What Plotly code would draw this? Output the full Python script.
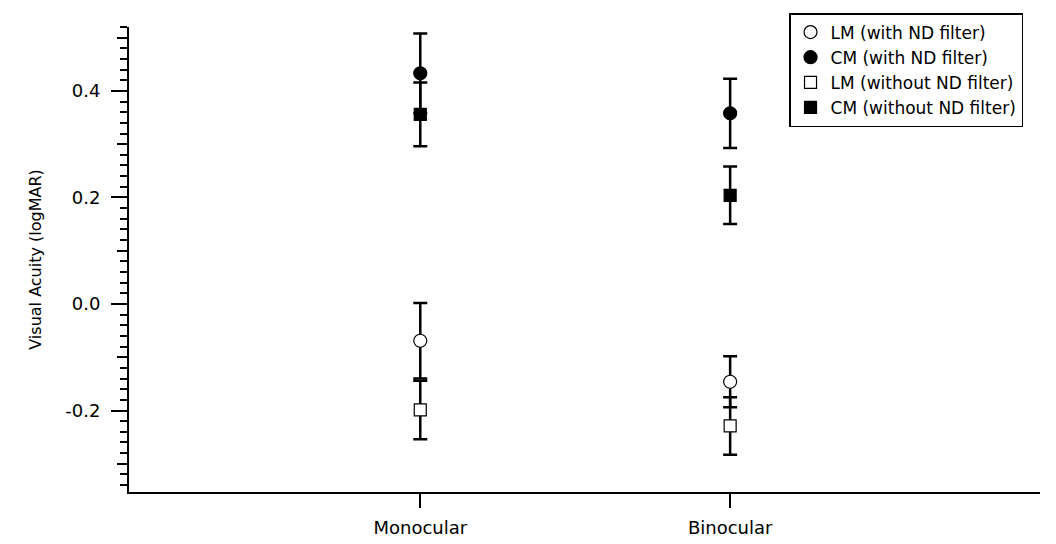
import plotly.graph_objects as go

categories = ["Monocular", "Binocular"]

lm_nd = [-0.069, -0.146]
lm_nd_err = [0.071, 0.048]
cm_nd = [0.433, 0.358]
cm_nd_err = [0.075, 0.065]
lm_no = [-0.199, -0.229]
lm_no_err = [0.055, 0.054]
cm_no = [0.356, 0.204]
cm_no_err = [0.060, 0.054]

y_ticks = [-0.2, 0.0, 0.2, 0.4]
y_tick_labels = ["-0.2", "0.0", "0.2", "0.4"]

xpos = list(range(1, len(categories) + 1))

FONT = "DejaVu Sans, Liberation Sans, Arial, sans-serif"

series = [
    ("LM (with ND filter)", lm_nd, lm_nd_err, "circle", "white", 13),
    ("CM (with ND filter)", cm_nd, cm_nd_err, "circle", "black", 13),
    ("LM (without ND filter)", lm_no, lm_no_err, "square", "white", 12),
    ("CM (without ND filter)", cm_no, cm_no_err, "square", "black", 12),
]

fig = go.Figure()
for name, ys, errs, sym, fill, size in series:
    fig.add_trace(go.Scatter(
        x=xpos, y=ys, name=name, mode="markers",
        marker=dict(symbol=sym, color=fill, size=size,
                    line=dict(color="black", width=1.2)),
        error_y=dict(type="data", array=errs, visible=True,
                     color="black", thickness=2.5, width=7),
    ))

# helper trace for the medium (0.1) tick axis
fig.add_trace(go.Scatter(x=[None], y=[None], yaxis="y2", showlegend=False,
                         hoverinfo="skip"))

yr = [-0.353, 0.52]

fig.update_layout(
    width=1056, height=544,
    margin=dict(l=121, r=24, t=19, b=60, autoexpand=False),
    plot_bgcolor="white", paper_bgcolor="white",
    font=dict(family=FONT, color="black", size=16),
    showlegend=True,
    legend=dict(
        x=0.7245, y=1.03, xanchor="left", yanchor="top",
        bordercolor="black", borderwidth=1.5, bgcolor="white",
        font=dict(size=17, family=FONT), itemwidth=30,
        tracegroupgap=0,
    ),
    xaxis=dict(
        range=[0.06, 3.0],
        tickvals=xpos, ticktext=categories,
        ticks="outside", ticklen=14, tickwidth=2, tickcolor="black",
        showline=True, linewidth=2, linecolor="black",
        showgrid=False, zeroline=False,
        tickfont=dict(size=18, family=FONT),
        ticklabelstandoff=4,
    ),
    yaxis=dict(
        range=yr,
        tickvals=y_ticks, ticktext=y_tick_labels,
        ticks="outside", ticklen=16, tickwidth=2, tickcolor="black",
        minor=dict(dtick=0.02, tick0=0, ticks="outside", ticklen=7,
                   tickwidth=1.5, tickcolor="black", showgrid=False),
        showline=True, linewidth=2, linecolor="black",
        showgrid=False, zeroline=False,
        tickfont=dict(size=18, family=FONT),
        ticklabelstandoff=7,
        title=dict(text="Visual Acuity (logMAR)", standoff=20,
                   font=dict(size=16, family=FONT)),
    ),
    yaxis2=dict(
        range=yr, overlaying="y", side="left", anchor="x",
        dtick=0.1, tick0=0, ticks="outside", ticklen=11, tickwidth=1.5,
        tickcolor="black", showticklabels=False,
        showline=False, showgrid=False, zeroline=False,
    ),
)

fig.write_html("out.html")
